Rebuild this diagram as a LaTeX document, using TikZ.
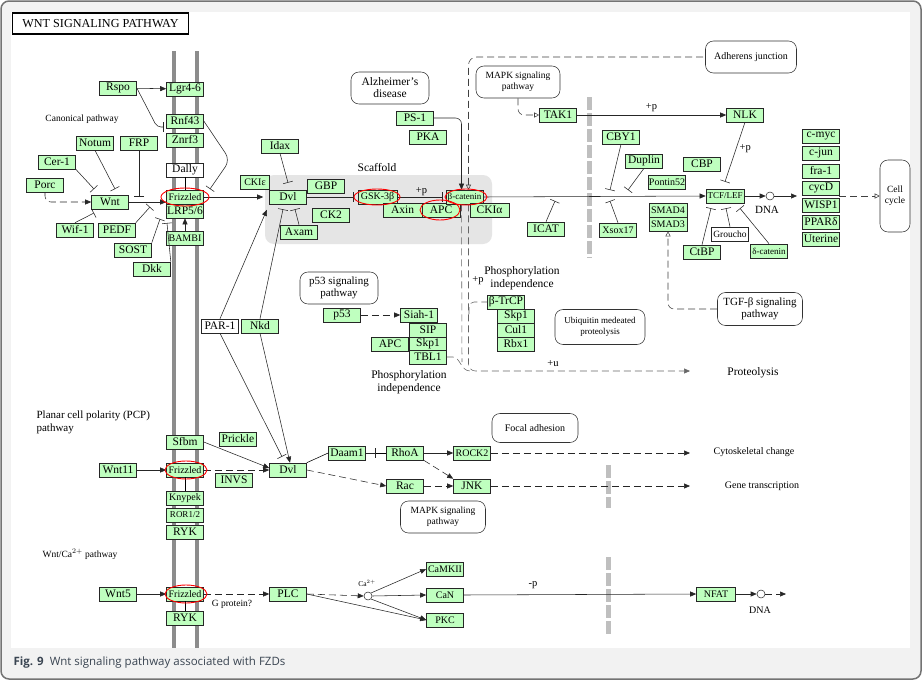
\documentclass[tikz,border=0pt]{standalone}
\usepackage{fontspec}
\setmainfont{Liberation Serif}
\newfontfamily\capfont{Open Sans}
\usetikzlibrary{arrows.meta}
\definecolor{keggreen}{HTML}{BFFFBF}
\definecolor{capgray}{HTML}{3A4552}

\begin{document}
\begin{tikzpicture}[x=1pt,y=-1pt,line width=0.55pt,
        gene/.style={draw=black!85,line width=0.6pt,fill=keggreen,minimum width=37pt,minimum height=14pt,inner sep=0pt,font=\fontsize{11.5}{12}\selectfont},
        mgene/.style={gene,font=\fontsize{10}{11}\selectfont},
        sgene/.style={gene,font=\fontsize{9}{10}\selectfont},
        wgene/.style={gene,fill=white},
        pathbox/.style={draw=black!80,fill=white,rounded corners=8pt,align=center,inner sep=1pt,font=\fontsize{9.5}{11}\selectfont},
        txt/.style={align=center,font=\fontsize{11.5}{13}\selectfont},
        stxt/.style={align=center,font=\fontsize{9.5}{11}\selectfont},
        act/.style={draw=black!85,-{Triangle[length=6pt,width=5pt]}},
        inh/.style={draw=black!85,-{Bar[width=10pt]}},
        opn/.style={draw=black!75,-{Triangle[open,length=5pt,width=5pt]}},
        ind/.style={dash pattern=on 7pt off 4pt},
        membr/.style={draw=black!45,line width=4pt},
        nucl/.style={draw=black!25,line width=5pt,dash pattern=on 13pt off 3pt},
        ring/.style={draw=red,line width=0.9pt},
        dnac/.style={circle,draw=black!80,fill=white,inner sep=0pt,minimum size=8pt}]

    \useasboundingbox (0,0) rectangle (922,680);

    % Frame and caption
    \draw[draw=black!55,fill=black!5,rounded corners=8pt,line width=1.5pt] (1,1) rectangle (921,679);
    \fill[white] (11,12) rectangle (910,648);
    \node[anchor=west,font=\capfont\fontsize{11.5}{13}\selectfont,text=capgray] (caption) at (10,663)
        {\textbf{Fig. 9}\hspace{6pt}Wnt signaling pathway associated with FZDs};
    \node[draw,line width=1.3pt,minimum width=176pt,minimum height=21pt,font=\fontsize{12.2}{13}\selectfont] (title) at (100.5,23.5) {WNT SIGNALING PATHWAY};

    % Membranes
    \draw[membr] (174,51) -- (174,648);
    \draw[membr] (197,51) -- (197,648);
    \draw[nucl] (589,97) -- (589,258);
    \draw[nucl] (608,465) -- (608,508);
    \draw[nucl] (608,557) -- (608,636);
    \fill[black!10,rounded corners=9pt] (265,175) rectangle (492,244);

    % Canonical pathway
    \node[stxt] (canon) at (82,119) {Canonical pathway};
    \node[gene] (Rspo) at (118,88) {Rspo};
    \node[gene] (Lgr) at (185,89) {Lgr4-6};
    \node[gene] (Rnf) at (185,121) {Rnf43};
    \node[gene] (Znrf) at (185,140) {Znrf3};
    \node[wgene] (Dally) at (185,170) {Dally};
    \node[mgene] (Fz1) at (185,197) {Frizzled};
    \node[gene] (LRP) at (185,211) {LRP5/6};
    \node[mgene] (BAMBI) at (185,238) {BAMBI};
    \node[gene] (Notum) at (95,143) {Notum};
    \node[gene] (FRP) at (139,143) {FRP};
    \node[gene] (Cer) at (57,162) {Cer-1};
    \node[gene] (Porc) at (45,185) {Porc};
    \node[gene] (Wnt) at (110,202) {Wnt};
    \node[gene] (Wif) at (75,230) {Wif-1};
    \node[gene] (PEDF) at (117,230) {PEDF};
    \node[gene] (SOST) at (133,250) {SOST};
    \node[gene] (Dkk) at (152,269) {Dkk};

    % Scaffold
    \node[txt] (scaf) at (377,168) {Scaffold};
    \node[gene] (Idax) at (280,146) {Idax};
    \node[mgene,minimum width=29pt] (CKIe) at (255,182) {CKIε};
    \node[gene] (Dvl1) at (288,197) {Dvl};
    \node[gene] (GBP) at (326,186) {GBP};
    \node[gene] (CK2) at (331,215) {CK2};
    \node[gene] (Axam) at (299,232) {Axam};
    \node[mgene,minimum width=39pt] (GSK) at (377.5,197) {GSK-3β};
    \node[gene,minimum width=39pt] (Axin) at (402.5,210) {Axin};
    \node[gene,minimum width=38pt] (APC1) at (441,210) {APC};
    \node[sgene] (bcat) at (464.5,197) {β-catenin};
    \node[gene,minimum width=39pt] (CKIa) at (489.5,210) {CKIα};
    \node[pathbox,minimum width=78pt,minimum height=32pt,font=\fontsize{11.5}{12}\selectfont] (Alz) at (390,88) {Alzheimer's\\disease};
    \node[gene] (PS1) at (415,118) {PS-1};
    \node[gene] (PKA) at (428,137) {PKA};
    \node[wgene] (PAR) at (220,326) {PAR-1};
    \node[gene] (Nkd) at (260,326) {Nkd};

    % Nucleus side
    \node[pathbox,minimum width=84pt,minimum height=32pt] (MAPK1) at (518,82) {MAPK signaling\\pathway};
    \node[pathbox,minimum width=91pt,minimum height=32pt,font=\fontsize{10}{11}\selectfont] (Adh) at (751,57) {Adherens junction};
    \node[gene] (TAK1) at (558,115) {TAK1};
    \node[gene] (NLK) at (745,115) {NLK};
    \node[gene] (CBY1) at (621,137) {CBY1};
    \node[gene] (Duplin) at (644,161) {Duplin};
    \node[gene] (CBP) at (702,164) {CBP};
    \node[mgene] (Pontin) at (667,182) {Pontin52};
    \node[sgene,minimum width=38pt] (TCF) at (725,196) {TCF/LEF};
    \node[gene] (ICAT) at (546,229) {ICAT};
    \node[mgene] (Xsox) at (618,230) {Xsox17};
    \node[mgene,minimum width=38pt] (SMAD4) at (668,210) {SMAD4};
    \node[mgene,minimum width=38pt] (SMAD3) at (668,224) {SMAD3};
    \node[wgene,font=\fontsize{9.5}{10}\selectfont] (Groucho) at (730,234) {Groucho};
    \node[gene] (CtBP) at (702,252) {CtBP};
    \node[sgene] (dcat) at (769,251) {δ-catenin};
    \node[dnac] (DNA1) at (770,196) {};
    \node[txt,font=\fontsize{11}{12}\selectfont] (dnatxt1) at (767,210) {DNA};
    \coordinate (geneto) at (797,196);
    \node[gene] (cmyc) at (821,136) {c-myc};
    \node[gene] (cjun) at (821,153) {c-jun};
    \node[gene] (fra) at (821,171) {fra-1};
    \node[gene] (cycD) at (821,188) {cycD};
    \node[gene] (WISP) at (821,205) {WISP1};
    \node[gene] (PPAR) at (821,222) {PPARδ};
    \node[gene] (Uter) at (821,239) {Uterine};
    \coordinate (genesout) at (839,196);
    \node[pathbox,minimum width=30pt,minimum height=72pt] (cycle) at (895,196) {Cell\\cycle};
    \node[pathbox,minimum width=85pt,minimum height=33pt,font=\fontsize{11}{12}\selectfont] (TGF) at (760,309) {TGF-β signaling\\pathway};

    % Degradation
    \node[pathbox,minimum width=78pt,minimum height=32pt,font=\fontsize{11}{12}\selectfont] (p53path) at (339,288) {p53 signaling\\pathway};
    \node[gene] (p53) at (342,315) {p53};
    \node[gene] (Siah) at (419,315) {Siah-1};
    \node[gene] (SIP) at (428,330) {SIP};
    \node[gene] (Skp1a) at (428,344) {Skp1};
    \node[gene] (APC2) at (390,344) {APC};
    \node[gene] (TBL1) at (428,357) {TBL1};
    \node[txt] (phos1) at (409,382) {Phosphorylation\\independence};
    \node[gene] (bTrCP) at (506,302) {β-TrCP};
    \node[gene] (Skp1b) at (516,316) {Skp1};
    \node[gene] (Cul1) at (516,330) {Cul1};
    \node[gene] (Rbx1) at (516,344) {Rbx1};
    \node[txt] (phos2) at (522,278) {Phosphorylation\\independence};
    \node[txt,font=\fontsize{10.5}{12}\selectfont] (pp2) at (478,281) {+p};
    \node[pathbox,minimum width=90pt,minimum height=35pt,font=\fontsize{9}{11}\selectfont] (Ubiq) at (600,327) {Ubiquitin medeated\\proteolysis};
    \node[txt,font=\fontsize{10.5}{12}\selectfont] (pu) at (553,364) {+u};
    \coordinate (proteoend) at (690,371);
    \node[txt] (proteo) at (753,373) {Proteolysis};

    % PCP pathway
    \node[txt,align=left,anchor=west,font=\fontsize{11}{13}\selectfont] (pcp) at (33,422) {Planar cell polarity (PCP)\\pathway};
    \node[gene] (Sfbm) at (185,442) {Sfbm};
    \node[gene] (Prickle) at (238,439) {Prickle};
    \node[gene] (Wnt11) at (118,470) {Wnt11};
    \node[mgene] (Fz2) at (185,470) {Frizzled};
    \node[gene] (INVS) at (234,480) {INVS};
    \node[gene] (Dvl2) at (288,470) {Dvl};
    \node[mgene] (Knypek) at (185,498) {Knypek};
    \node[sgene] (ROR) at (185,515) {ROR1/2};
    \node[gene] (RYK1) at (185,532) {RYK};
    \node[gene] (Daam) at (347,453) {Daam1};
    \node[gene] (RhoA) at (405,453) {RhoA};
    \node[mgene] (ROCK2) at (472,453) {ROCK2};
    \node[gene] (Rac) at (405,486) {Rac};
    \node[gene] (JNK) at (472,486) {JNK};
    \node[pathbox,minimum width=86pt,minimum height=29pt,font=\fontsize{10}{11}\selectfont] (Focal) at (535,428) {Focal adhesion};
    \node[pathbox,minimum width=85pt,minimum height=32pt] (MAPK2) at (443,517) {MAPK signaling\\pathway};
    \coordinate (cytoend) at (690,453);
    \coordinate (jnkend) at (690,486);
    \coordinate (daambar) at (376,453);
    \node[stxt,font=\fontsize{10}{11}\selectfont] (cyto) at (754,452) {Cytoskeletal change};
    \node[stxt,font=\fontsize{10}{11}\selectfont] (genetx) at (762,486) {Gene transcription};

    % Wnt/Ca2+ pathway
    \node[stxt] (wntca) at (80,554) {Wnt/Ca$^{2+}$ pathway};
    \node[gene] (Wnt5) at (118,594) {Wnt5};
    \node[mgene] (Fz3) at (185,594) {Frizzled};
    \node[gene] (RYK2) at (185,618) {RYK};
    \node[stxt] (gprot) at (232,604) {G protein?};
    \node[gene] (PLC) at (288,594) {PLC};
    \node[dnac,fill=none] (Ca) at (368,596) {};
    \node[font=\fontsize{7.5}{8}\selectfont] (catxt) at (367,583) {Ca$^{2+}$};
    \node[mgene] (CaMKII) at (445,569) {CaMKII};
    \node[mgene] (CaN) at (445,595) {CaN};
    \node[mgene] (PKC) at (445,620) {PKC};
    \node[txt,font=\fontsize{10.5}{12}\selectfont] (pm) at (533,585) {-p};
    \node[mgene,minimum width=39pt] (NFAT) at (716,594) {NFAT};
    \node[dnac] (DNA2) at (761,594) {};
    \node[stxt,font=\fontsize{10}{11}\selectfont] (dnatxt2) at (760,610) {DNA};
    \coordinate (dnaout) at (786,594);

    % Canonical edges
    \draw[act] (Rspo) -- (Lgr);
    \draw[inh,rounded corners=4pt] (Rspo.east) -- (157,127) -- (164,127);
    \draw[inh,rounded corners=8pt] (Rnf.east) -- (230,160) -- (210,189);
    \draw[act,ind,rounded corners=6pt] (Porc.south) |- (Wnt.west);
    \draw[inh] (Cer.south east) -- (94,189);
    \draw[inh] (Notum.south) -- (115,189);
    \draw[inh] (FRP.south) -- (139,197);
    \draw[act] (Wnt.east) -- (Fz1.west |- Wnt.east);
    \draw[inh] (Wif.north) -- (94,213);
    \draw[inh] (PEDF.north east) -- (150,207);
    \draw[inh] (SOST.north east) -- (160,219);
    \draw[inh] (Dkk.north east) -- (167,223);
    \draw[act] (BAMBI) -- (LRP);
    \draw (Dally) -- (Fz1);
    \draw[act,shorten >=6pt] (Fz1.east) -- (Dvl1.west);
    \draw[inh] (Idax.south) -- ([yshift=7pt]Dvl1.north);
    \draw[inh,shorten >=4pt] (Dvl1.east) -- (GSK.west);
    \draw[inh,shorten >=3pt] (GSK.east) -- node[above,font=\fontsize{10.5}{12}\selectfont,inner sep=1pt] {+p} (bcat.west);
    \draw[act] (bcat.east) -- (TCF.west);
    \draw[act,rounded corners=6pt] (PS1.east) -| ([xshift=-3pt]bcat.north);
    \draw[opn,{Triangle[open,length=5pt,width=5pt]}-,ind,rounded corners=8pt] ([xshift=4pt]bcat.north) |- (Adh.west);
    \draw[act,shorten >=6pt] (PAR.north) -- (Dvl1.south west);
    \draw[inh] (Nkd.north) -- ([xshift=-5pt,yshift=-5pt]Dvl1.south);
    \draw[inh] (Axam.north) -- ([xshift=7pt,yshift=-5pt]Dvl1.south);

    % Nuclear edges
    \draw[opn,ind,rounded corners=6pt] (MAPK1.south) |- (TAK1.west);
    \draw[act] (TAK1.east) -- node[above,font=\fontsize{10.5}{12}\selectfont] {+p} (NLK.west);
    \draw[inh] (NLK.south) -- node[right,font=\fontsize{10.5}{12}\selectfont,pos=0.45] {+p} ([yshift=7pt]TCF.north);
    \draw[inh] (CBY1.south) -- (610,190);
    \draw[inh] (Duplin.south) -- (628,190);
    \draw[inh] (ICAT.north) -- (555,201);
    \draw[inh] (Xsox.north) -- (610,201);
    \draw[inh] (CtBP.north) -- ([xshift=-14pt,yshift=-5pt]TCF.south);
    \draw[inh] (Groucho.north) -- ([xshift=1pt,yshift=-5pt]TCF.south);
    \draw[inh] (dcat.north) -- ([xshift=15pt,yshift=-5pt]TCF.south);
    \draw[act] (TCF.east) -- (DNA1.west);
    \draw[act] (DNA1.east) -- (geneto);
    \draw[opn,ind] (genesout) -- (cycle.west |- genesout);
    \draw[opn,ind,rounded corners=6pt] (TGF.west) -| (SMAD3.south);

    % Degradation edges
    \draw[act,ind] (p53) -- (Siah);
    \draw[ind,draw=black!60] ([xshift=-3pt]bcat.south) -- (462,362);
    \draw[ind,draw=black!60] (TBL1.east) -- (453,357) .. controls (460,357) and (461,371) .. (470,371);
    \draw[act,ind,draw=black!60,rounded corners=7pt] ([xshift=4pt]bcat.south) |- (proteoend);
    \coordinate (trcpfork) at (469,314);
    \draw[ind,draw=black!60,rounded corners=5pt] (trcpfork) |- (bTrCP.west);

    % PCP edges
    \draw[act] (Wnt11) -- (Fz2);
    \draw (Fz2) -- (Knypek);
    \draw[act,ind] (Fz2.east) -- (Dvl2.west);
    \draw[act] (Sfbm.east) -- ([yshift=2pt]Dvl2.west);
    \draw[inh] (PAR.south) -- ([xshift=-6pt,yshift=6pt]Dvl2.north);
    \draw[act] (Nkd.south) -- ([xshift=2pt]Dvl2.north);
    \draw (Dvl2.north east) -- (Daam.west);
    \draw[act,ind] (Dvl2.east) -- (Rac.west);
    \draw[inh] (Daam.east) -- (daambar);
    \draw (daambar) -- (RhoA.west);
    \draw[act] (RhoA) -- (ROCK2);
    \draw[act,ind] (RhoA.south east) -- (JNK.north west);
    \draw[act,ind] (Rac) -- (JNK);
    \draw[act,ind] (ROCK2.east) -- (cytoend);
    \draw[act,ind] (JNK.east) -- (jnkend);

    % Wnt/Ca2+ edges
    \draw[act] (Wnt5) -- (Fz3);
    \draw (Fz3) -- (RYK2);
    \draw[act,ind] (Fz3.east) -- (PLC.west);
    \draw[act,ind] (PLC.east) -- (Ca.west);
    \draw[act] (PLC.east) -- (PKC.west);
    \draw[act] (Ca.north east) -- (CaMKII.west);
    \draw[act] (Ca.east) -- (CaN.west);
    \draw[act] (Ca.south east) -- (PKC.west);
    \draw[act] (CaN.east) -- (NFAT.west);
    \draw[act] (NFAT.east) -- (DNA2.west);
    \draw[act,ind] (DNA2.east) -- (dnaout);

    % Highlights
    \draw[ring] (185,197) ellipse [x radius=24pt,y radius=9pt];
    \draw[ring] (186,470) ellipse [x radius=21pt,y radius=9pt];
    \draw[ring] (186,594) ellipse [x radius=21pt,y radius=9pt];
    \draw[ring] (377,197) ellipse [x radius=23pt,y radius=8pt];
    \draw[ring] (440,210) ellipse [x radius=20pt,y radius=10pt];
    \draw[ring] (466,197) ellipse [x radius=21pt,y radius=8pt];
\end{tikzpicture}
\end{document}
